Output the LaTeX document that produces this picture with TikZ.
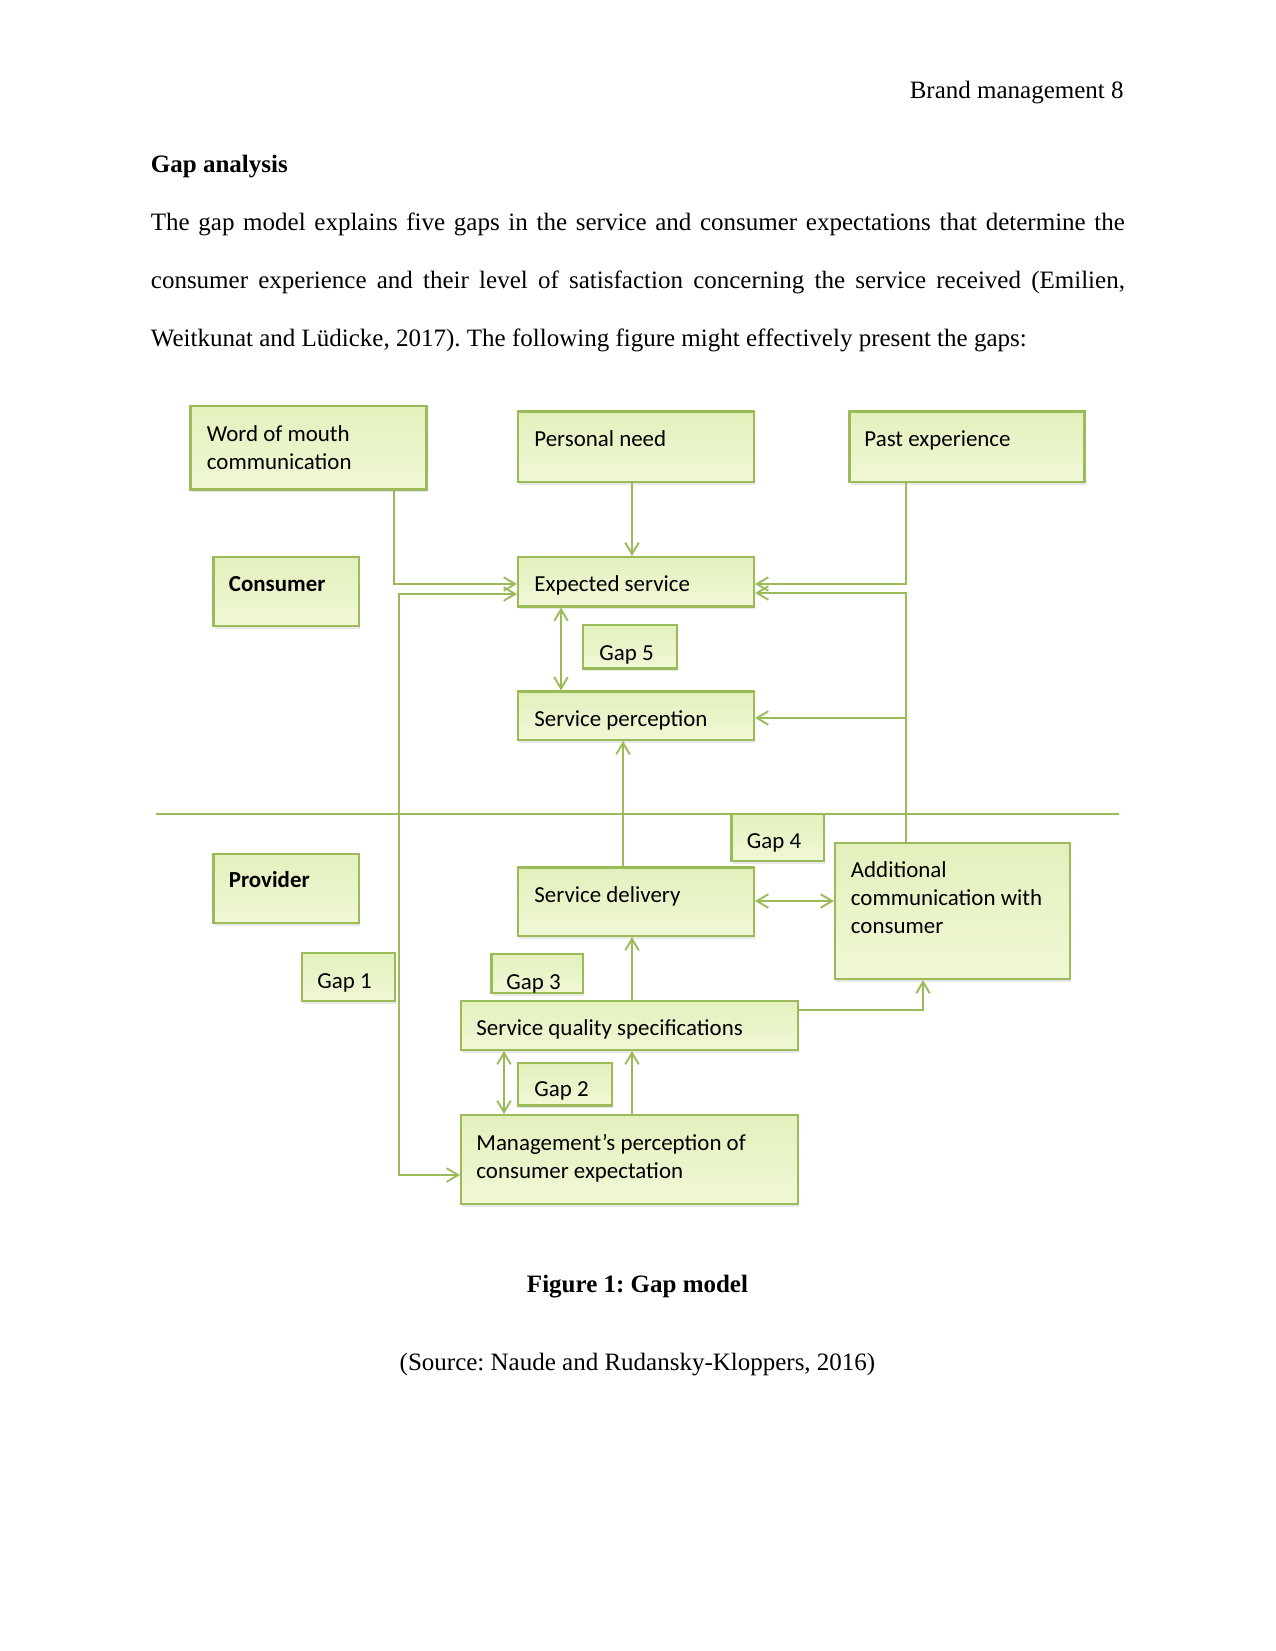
\documentclass[tikz,border=0pt]{standalone}
\usepackage{fontspec}
\setmainfont{Liberation Serif}
\newfontfamily\boxfont{Carlito}
\usetikzlibrary{arrows.meta,shadows}
\definecolor{olive}{HTML}{9BBB59}
\definecolor{boxtop}{HTML}{E3F0BD}
\definecolor{boxbot}{HTML}{F0F8D6}
\frenchspacing
\begin{document}
\frenchspacing
\begin{tikzpicture}[x=0.48pt,y=-0.48pt,
  gbox/.style={draw=olive, line width=1pt, top color=boxtop, bottom color=boxbot, inner sep=0pt,
    drop shadow={opacity=0.18, shadow xshift=0.6pt, shadow yshift=-1.4pt}},
  sz/.style 2 args={minimum width=#1*0.48pt, minimum height=#2*0.48pt},
  btxt/.style={font=\boxfont\fontsize{11}{13.44}\selectfont, inner sep=0pt, anchor=base west, align=left},
  ptxt/.style={font=\fontsize{12}{14}\selectfont, inner sep=0pt},
  conn/.style={draw=olive, line width=0.9pt},
  >={Straight Barb[length=5.5pt,width=6.5pt]}]
\fill[white] (0,0) rectangle (1275,1651);
\useasboundingbox (0,0) rectangle (1275,1651);

% page text
\node[ptxt, anchor=base east] (hdr) at (1124,99) {Brand management 8};
\node[ptxt, anchor=base west, font=\fontsize{12}{14}\selectfont\bfseries] (head) at (150.5,173) {Gap analysis};
\node[ptxt, anchor=base west] (p1) at (150.5,231) {\makebox[467.5pt][s]{The gap model explains five gaps in the service and consumer expectations that determine the}};
\node[ptxt, anchor=base west] (p2) at (150.5,289) {\makebox[467.5pt][s]{consumer experience and their level of satisfaction concerning the service received (Emilien,}};
\node[ptxt, anchor=base west] (p3) at (150.5,346.5) {Weitkunat and Lüdicke, 2017). The following figure might effectively present the gaps:};
\node[ptxt, anchor=base, font=\fontsize{12}{14}\selectfont\bfseries] (cap) at (637.5,1292) {Figure 1: Gap model};
\node[ptxt, anchor=base] (src) at (637.5,1370) {(Source: Naude and Rudansky-Kloppers, 2016)};

% helper coordinates
\coordinate (x504) at (504,0);
\coordinate (x561) at (561,0);
\coordinate (x623) at (623,0);
\coordinate (x632) at (632,0);
\coordinate (xa) at (394,0);
\coordinate (xb) at (399,0);
\coordinate (xc) at (906,0);
\coordinate (x923) at (923,0);
\coordinate (y584) at (0,584);
\coordinate (y594) at (0,594);
\coordinate (y593) at (0,593);
\coordinate (y718) at (0,718);
\coordinate (y901) at (0,901);
\coordinate (y1010) at (0,1010);
\coordinate (y1175) at (0,1175);

% divider
\draw[conn] (156,814) -- (1119,814);

% boxes
\node[gbox, sz={236}{83.5}] (wom) at (308.5,447.75) {};
\node[gbox, sz={236}{70.5}] (pn) at (636,446.75) {};
\node[gbox, sz={235}{70.5}] (pe) at (967,446.75) {};
\node[gbox, sz={145.5}{69}] (cons) at (286.25,591.5) {};
\node[gbox, sz={236}{49.5}] (es) at (636,581.75) {};
\node[gbox, sz={94}{43.5}] (gap5) at (630,646.75) {};
\node[gbox, sz={236}{48.5}] (sp) at (636,715.75) {};
\node[gbox, sz={92.5}{47}] (gap4) at (777.75,837.5) {};
\node[gbox, sz={235}{136}] (ac) at (952.5,911) {};
\node[gbox, sz={145.5}{69}] (prov) at (286.25,888.5) {};
\node[gbox, sz={236}{68.5}] (sd) at (636,901.75) {};
\node[gbox, sz={93}{48}] (gap1) at (348.5,977) {};
\node[gbox, sz={91.5}{39}] (gap3) at (537.25,973.5) {};
\node[gbox, sz={337}{49}] (sqs) at (629.5,1025.5) {};
\node[gbox, sz={94}{42.5}] (gap2) at (565,1084.25) {};
\node[gbox, sz={337}{89}] (mgmt) at (629.5,1159.5) {};

% box texts (multi-line nodes: base = last line)
\node[btxt] (womt) at (206.5,469) {Word of mouth\\communication};
\node[btxt] (pnt) at (534,446) {Personal need};
\node[btxt] (pet) at (864,446) {Past experience};
\node[btxt, font=\boxfont\fontsize{11}{13.44}\selectfont\bfseries] (const) at (228.5,591) {Consumer};
\node[btxt] (est) at (534,591) {Expected service};
\node[btxt] (gap5t) at (599,660) {Gap 5};
\node[btxt] (spt) at (534,726) {Service perception};
\node[btxt] (gap4t) at (746.5,848) {Gap 4};
\node[btxt] (act) at (850.5,933.5) {Additional\\communication with\\consumer};
\node[btxt, font=\boxfont\fontsize{11}{13.44}\selectfont\bfseries] (provt) at (228.5,887) {Provider};
\node[btxt] (sdt) at (534,902) {Service delivery};
\node[btxt] (gap1t) at (317,988) {Gap 1};
\node[btxt] (gap3t) at (506,989) {Gap 3};
\node[btxt] (sqst) at (476,1035.5) {Service quality specifications};
\node[btxt] (gap2t) at (534,1096.5) {Gap 2};
\node[btxt] (mgmtt) at (476,1178) {Management’s perception of\\consumer expectation};

% connectors
\draw[conn,->] (xa |- wom.south) |- (es.west |- y584);
\draw[conn,<->] (es.west |- y594) -- (xb |- y594) -- (xb |- y1175) -- (mgmt.west |- y1175);
\draw[conn,->] (x632 |- pn.south) -- (x632 |- es.north);
\draw[conn,->] (xc |- pe.south) |- (es.east |- y584);
\draw[conn,->] (xc |- ac.north) |- (es.east |- y593);
\draw[conn,->] (xc |- y718) -- (sp.east |- y718);
\draw[conn,<->] (x561 |- es.south) -- (x561 |- sp.north);
\draw[conn,->] (x623 |- sd.north) -- (x623 |- sp.south);
\draw[conn,<->] (sd.east |- y901) -- (ac.west |- y901);
\draw[conn,->] (x632 |- sqs.north) -- (x632 |- sd.south);
\draw[conn,->] (sqs.east |- y1010) -| (x923 |- ac.south);
\draw[conn,<->] (x504 |- sqs.south) -- (x504 |- mgmt.north);
\draw[conn,->] (x632 |- mgmt.north) -- (x632 |- sqs.south);
\end{tikzpicture}
\end{document}
